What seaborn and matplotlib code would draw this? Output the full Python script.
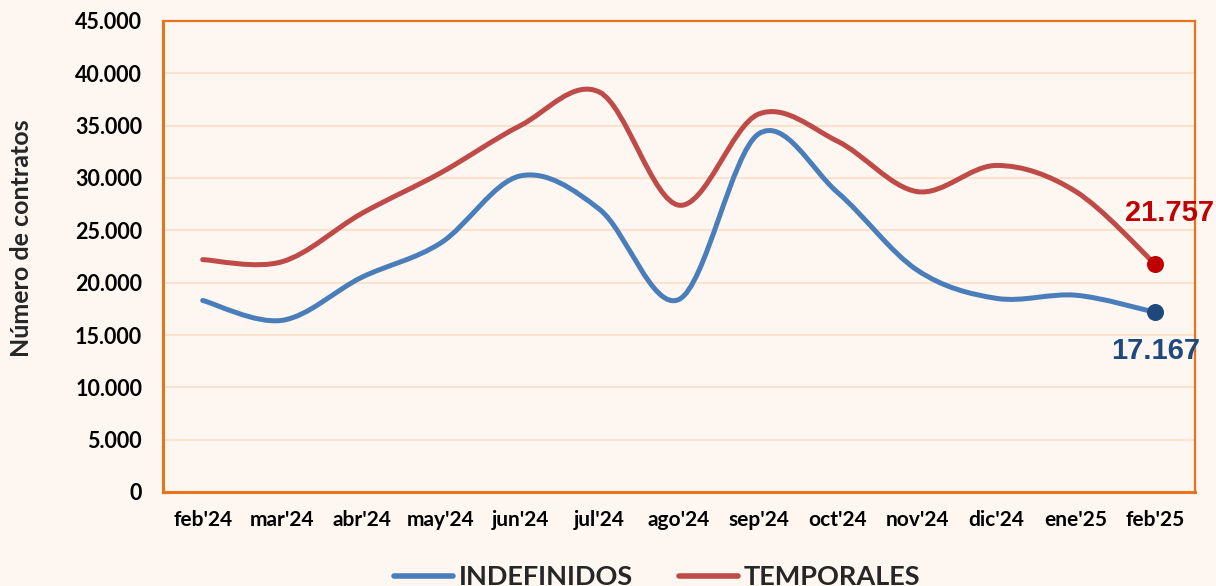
import numpy as np
import pandas as pd
import matplotlib
matplotlib.use("Agg")
import matplotlib.pyplot as plt
from matplotlib.path import Path
from matplotlib.patches import PathPatch
from matplotlib.lines import Line2D
from matplotlib.ticker import FuncFormatter, FixedLocator
import seaborn as sns

# ---- data ----
meses = ["feb'24", "mar'24", "abr'24", "may'24", "jun'24", "jul'24", "ago'24",
         "sep'24", "oct'24", "nov'24", "dic'24", "ene'25", "feb'25"]
indefinidos = [18300, 16400, 20500, 23800, 30200, 27000, 18400,
               34200, 28600, 21200, 18500, 18800, 17167]
temporales = [22200, 22000, 26600, 30500, 35000, 38200, 27400,
              36100, 33500, 28700, 31200, 28700, 21757]

BG = "#fdf6f1"
ORANGE = "#e8731a"
GRID = "#fbdfc6"
BLUE = "#4a7ebb"
RED = "#be4b48"

sns.set_theme(style="white")
plt.rcParams["font.family"] = ["Lato", "DejaVu Sans"]

df = pd.DataFrame({
    "idx": list(range(len(meses))) * 2,
    "valor": indefinidos + temporales,
    "serie": ["INDEFINIDOS"] * len(meses) + ["TEMPORALES"] * len(meses),
})

fig = plt.figure(figsize=(12.16, 5.86), dpi=100, facecolor=BG)
ax = fig.add_axes([163 / 1216, 1 - 492 / 586, (1195 - 163) / 1216, (492 - 21) / 586])
ax.set_facecolor(BG)

sns.lineplot(data=df, x="idx", y="valor", hue="serie",
             palette={"INDEFINIDOS": BLUE, "TEMPORALES": RED},
             legend=False, ax=ax)


def smooth_path(xs, ys):
    # excel-style smoothed line: bezier segments through the data points
    pts = np.column_stack([xs, ys]).astype(float)
    n = len(pts)
    verts = [pts[0]]
    codes = [Path.MOVETO]
    for i in range(n - 1):
        p0 = pts[max(i - 1, 0)]
        p1 = pts[i]
        p2 = pts[i + 1]
        p3 = pts[min(i + 2, n - 1)]
        c1 = p1 + (p2 - p0) / 6.0
        c2 = p2 - (p3 - p1) / 6.0
        verts += [c1, c2, p2]
        codes += [Path.CURVE4] * 3
    return Path(verts, codes)


# swap seaborn's straight segments for smoothed curves
for line in ax.lines:
    line.set_visible(False)
for vals, col in [(indefinidos, BLUE), (temporales, RED)]:
    ax.add_patch(PathPatch(smooth_path(range(len(meses)), vals), facecolor="none",
                           edgecolor=col, lw=3.6, capstyle="round", joinstyle="round",
                           zorder=3))

# end markers
last = len(meses) - 1
ax.scatter([last], [temporales[-1]], s=150, color="#c00000", zorder=4, linewidths=0)
ax.scatter([last], [indefinidos[-1]], s=150, color="#1f497d", zorder=4, linewidths=0)
fmt = lambda v: f"{v:,.0f}".replace(",", ".")
ax.annotate(fmt(temporales[-1]), (last, temporales[-1]), xytext=(10, 37),
            textcoords="offset points", ha="center", va="center",
            fontsize=21, fontweight="bold", color="#c00000",
            family=["Liberation Sans", "DejaVu Sans"])
ax.annotate(fmt(indefinidos[-1]), (last, indefinidos[-1]), xytext=(0, -28),
            textcoords="offset points", ha="center", va="center",
            fontsize=21, fontweight="bold", color="#1f497d",
            family=["Liberation Sans", "DejaVu Sans"])

# axes
ax.set_xlim(-0.5, len(meses) - 0.5)
ax.set_ylim(0, 45000)
ax.yaxis.set_major_locator(FixedLocator(np.arange(0, 45001, 5000)))
ax.yaxis.set_major_formatter(FuncFormatter(lambda v, p: fmt(v)))
ax.xaxis.set_major_locator(FixedLocator(np.arange(-0.5, len(meses), 1.0)))
ax.xaxis.set_major_formatter(FuncFormatter(lambda v, p: ""))
ax.set_xticks(np.arange(len(meses)), meses, minor=True)
ax.tick_params(axis="x", which="major", length=7, width=1.2, color=ORANGE, direction="out")
ax.tick_params(axis="x", which="minor", length=0, pad=13, labelsize=15)
ax.tick_params(axis="y", length=6, width=1.2, color=ORANGE, direction="out",
               labelsize=15.5, pad=9)
for lab in ax.get_xticklabels(minor=True) + ax.get_yticklabels():
    lab.set_fontweight("bold")
    lab.set_color("black")

ax.grid(axis="y", color=GRID, lw=1.2)
ax.set_axisbelow(True)
for side, sp in ax.spines.items():
    sp.set_visible(True)
    sp.set_color(ORANGE)
    sp.set_linewidth(2.2 if side in ("left", "bottom") else 1.6)
ax.set_xlabel("")
ax.set_ylabel("")
fig.text(22 / 1216, 1 - 238 / 586, "Número de contratos", rotation=90,
         ha="center", va="center", fontsize=18, fontweight="bold")

# legend sits at the bottom edge, partly cropped as in the reference
handles = [Line2D([], [], color=BLUE, lw=4), Line2D([], [], color=RED, lw=4)]
fig.legend(handles, ["INDEFINIDOS", "TEMPORALES"], loc="center",
           bbox_to_anchor=(657 / 1216, 1 - 577 / 586), ncol=2, frameon=False,
           prop={"weight": "bold", "size": 19.5}, handlelength=2.2,
           handletextpad=0.2, columnspacing=1.7)

fig.savefig("out.png", dpi=100, facecolor=BG)
